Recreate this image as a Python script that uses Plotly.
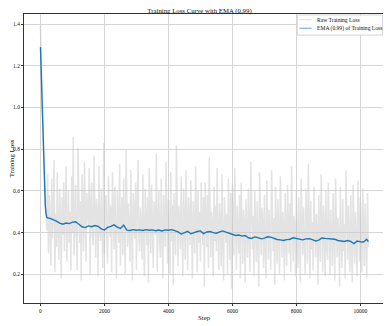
import plotly.graph_objects as go

# ---------------- data ----------------
raw_steps = list(range(0, 10260, 25))
raw_loss = [
    1.39, 1.22, 1.05, 0.92, 0.78, 0.70, 0.62, 0.55, 0.41, 0.68, 0.30, 0.58, 0.45, 0.24, 0.66, 0.37, 0.52, 0.75, 0.21, 0.49,
    0.33, 0.69, 0.42, 0.27, 0.61, 0.48, 0.18, 0.57, 0.39, 0.64, 0.31, 0.53, 0.72, 0.26, 0.46, 0.60, 0.35, 0.50, 0.22, 0.67,
    0.40, 0.86, 0.29, 0.55, 0.63, 0.36, 0.22, 0.81, 0.44, 0.35, 0.55, 0.17, 0.68, 0.47, 0.31, 0.74, 0.41, 0.26, 0.59, 0.51,
    0.43, 0.71, 0.20, 0.52, 0.64, 0.38, 0.34, 0.77, 0.45, 0.28, 0.56, 0.49, 0.19, 0.72, 0.40, 0.36, 0.61, 0.47, 0.23, 0.83,
    0.30, 0.54, 0.58, 0.39, 0.25, 0.67, 0.44, 0.38, 0.53, 0.21, 0.69, 0.46, 0.32, 0.62, 0.42, 0.18, 0.60, 0.50, 0.35, 0.73,
    0.24, 0.48, 0.57, 0.29, 0.66, 0.41, 0.20, 0.80, 0.45, 0.33, 0.54, 0.37, 0.26, 0.70, 0.43, 0.17, 0.59, 0.48, 0.37, 0.64,
    0.22, 0.51, 0.75, 0.39, 0.31, 0.52, 0.44, 0.27, 0.68, 0.40, 0.19, 0.61, 0.46, 0.34, 0.57, 0.16, 0.71, 0.42, 0.30, 0.63,
    0.38, 0.23, 0.55, 0.47, 0.39, 0.78, 0.21, 0.45, 0.60, 0.36, 0.28, 0.66, 0.41, 0.18, 0.58, 0.49, 0.33, 0.74, 0.40, 0.25,
    0.56, 0.44, 0.20, 0.69, 0.36, 0.53, 0.15, 0.59, 0.42, 0.29, 0.82, 0.38, 0.24, 0.53, 0.47, 0.32, 0.67, 0.40, 0.19, 0.61,
    0.37, 0.27, 0.70, 0.43, 0.22, 0.57, 0.45, 0.34, 0.65, 0.39, 0.18, 0.55, 0.46, 0.30, 0.72, 0.41, 0.21, 0.60, 0.35, 0.50,
    0.26, 0.64, 0.43, 0.34, 0.57, 0.14, 0.64, 0.40, 0.33, 0.58, 0.23, 0.76, 0.38, 0.28, 0.50, 0.44, 0.19, 0.62, 0.36, 0.53,
    0.31, 0.71, 0.39, 0.22, 0.54, 0.46, 0.24, 0.68, 0.35, 0.17, 0.57, 0.42, 0.35, 0.49, 0.20, 0.66, 0.41, 0.27, 0.59, 0.13,
    0.63, 0.38, 0.29, 0.71, 0.34, 0.22, 0.53, 0.43, 0.30, 0.58, 0.18, 0.64, 0.37, 0.25, 0.51, 0.45, 0.16, 0.56, 0.40, 0.28,
    0.61, 0.36, 0.21, 0.74, 0.39, 0.32, 0.48, 0.19, 0.60, 0.42, 0.26, 0.55, 0.35, 0.14, 0.69, 0.38, 0.29, 0.52, 0.44, 0.23,
    0.58, 0.33, 0.18, 0.65, 0.40, 0.27, 0.51, 0.36, 0.22, 0.70, 0.37, 0.31, 0.47, 0.15, 0.62, 0.41, 0.25, 0.56, 0.34, 0.20,
    0.67, 0.39, 0.28, 0.50, 0.43, 0.17, 0.59, 0.35, 0.24, 0.63, 0.38, 0.30, 0.54, 0.21, 0.72, 0.36, 0.26, 0.48, 0.42, 0.19,
    0.60, 0.33, 0.23, 0.57, 0.39, 0.16, 0.66, 0.37, 0.29, 0.52, 0.41, 0.20, 0.61, 0.35, 0.25, 0.73, 0.38, 0.18, 0.55, 0.32,
    0.45, 0.22, 0.62, 0.36, 0.28, 0.49, 0.40, 0.15, 0.58, 0.34, 0.26, 0.68, 0.37, 0.21, 0.53, 0.43, 0.19, 0.60, 0.33, 0.27,
    0.64, 0.38, 0.20, 0.51, 0.35, 0.24, 0.59, 0.41, 0.17, 0.66, 0.34, 0.28, 0.47, 0.39, 0.14, 0.62, 0.36, 0.23, 0.56, 0.31,
    0.44, 0.18, 0.70, 0.35, 0.27, 0.53, 0.38, 0.21, 0.58, 0.33, 0.16, 0.63, 0.40, 0.25, 0.50, 0.37, 0.19, 0.65, 0.32, 0.26,
    0.57, 0.36, 0.21, 0.61, 0.34, 0.24, 0.54, 0.39, 0.18, 0.59, 0.33,
]

ema_steps = [0, 25, 50, 75, 100, 125, 150, 175, 200] + list(range(300, 10300, 100)) + [10250]
ema_loss = [
    1.29, 1.16, 0.98, 0.80, 0.68, 0.60, 0.53, 0.49, 0.472,
    0.468, 0.462, 0.455, 0.445, 0.440, 0.446, 0.443, 0.450, 0.452, 0.440,
    0.428, 0.424, 0.432, 0.428, 0.434, 0.430, 0.418, 0.412, 0.425, 0.430,
    0.437, 0.426, 0.420, 0.436, 0.412, 0.410, 0.414, 0.411, 0.413, 0.410,
    0.414, 0.411, 0.413, 0.409, 0.412, 0.408, 0.413, 0.411, 0.414, 0.409,
    0.403, 0.393, 0.400, 0.406, 0.394, 0.400, 0.405, 0.408, 0.395, 0.403,
    0.405, 0.400, 0.397, 0.403, 0.408, 0.402, 0.397, 0.392, 0.386, 0.388,
    0.383, 0.386, 0.375, 0.372, 0.379, 0.376, 0.370, 0.373, 0.380, 0.378,
    0.372, 0.367, 0.365, 0.362, 0.366, 0.368, 0.375, 0.372, 0.368, 0.365,
    0.370, 0.371, 0.366, 0.360, 0.364, 0.374, 0.372, 0.371, 0.369, 0.368,
    0.362, 0.358, 0.357, 0.362, 0.358, 0.347, 0.359, 0.356, 0.355, 0.368,
    0.357,
]

x_ticks = [0, 2000, 4000, 6000, 8000, 10000]
y_ticks = [0.2, 0.4, 0.6, 0.8, 1.0, 1.2, 1.4]

RAW_COLOR = "rgba(200,200,200,0.5)"
EMA_COLOR = "#1f77b4"

# ---------------- figure ----------------
# the page body has an 8px margin, so the figure is 8px smaller than the window
fig = go.Figure()
fig.add_trace(go.Scatter(
    x=raw_steps, y=raw_loss, mode="lines", name="Raw Training Loss",
    line=dict(color=RAW_COLOR, width=1.5),
))
fig.add_trace(go.Scatter(
    x=ema_steps, y=ema_loss, mode="lines", name="EMA (0.99) of Training Loss",
    line=dict(color=EMA_COLOR, width=1.4),
))

axis_common = dict(
    showline=True, linecolor="#333", linewidth=1, mirror=True,
    showgrid=True, gridcolor="#d6d6d6", gridwidth=0.8,
    ticks="outside", ticklen=2, tickcolor="#333", tickwidth=0.7,
    zeroline=False, tickfont=dict(size=5.5, color="#111"), automargin=False,
)

fig.update_layout(
    width=383, height=318,
    margin=dict(l=16, r=7, t=6, b=23),
    paper_bgcolor="white", plot_bgcolor="white",
    font=dict(family="Liberation Serif, Times New Roman, serif", color="#111"),
    title=dict(text="Training Loss Curve with EMA (0.99)", x=0.5, xanchor="center",
               y=0.998, yanchor="top", font=dict(size=6.8)),
    xaxis=dict(axis_common, range=[-515, 10740], tickvals=x_ticks, tickformat="d"),
    yaxis=dict(axis_common, range=[0.062, 1.449], tickvals=y_ticks, tickformat=".1f"),
    showlegend=False,
)

# axis titles
fig.add_annotation(text="Step", xref="paper", yref="paper", x=0.5, y=-0.03,
                   showarrow=False, yanchor="top", font=dict(size=6.8))
fig.add_annotation(text="Training Loss", xref="paper", yref="paper", x=-0.034, y=0.5,
                   showarrow=False, textangle=-90, xanchor="center", font=dict(size=6.8))

# legend box, drawn by hand to keep it compact
fig.add_shape(type="rect", xref="paper", yref="paper", x0=0.759, x1=0.996, y0=0.927, y1=0.9965,
              line=dict(color="#cccccc", width=0.8), fillcolor="rgba(255,255,255,0.85)", layer="above")
legend_rows = [("Raw Training Loss", "rgba(200,200,200,0.8)", 0.8, 0.980),
               ("EMA (0.99) of Training Loss", "#8dbcdf", 1.4, 0.9505)]
for label, color, width, yrow in legend_rows:
    fig.add_shape(type="line", xref="paper", yref="paper", x0=0.765, x1=0.799, y0=yrow, y1=yrow,
                  line=dict(color=color, width=width), layer="above")
    fig.add_annotation(text=label, xref="paper", yref="paper", x=0.8075, y=yrow,
                       xanchor="left", yanchor="middle", showarrow=False, font=dict(size=5.6))

fig.write_html("out.html")
